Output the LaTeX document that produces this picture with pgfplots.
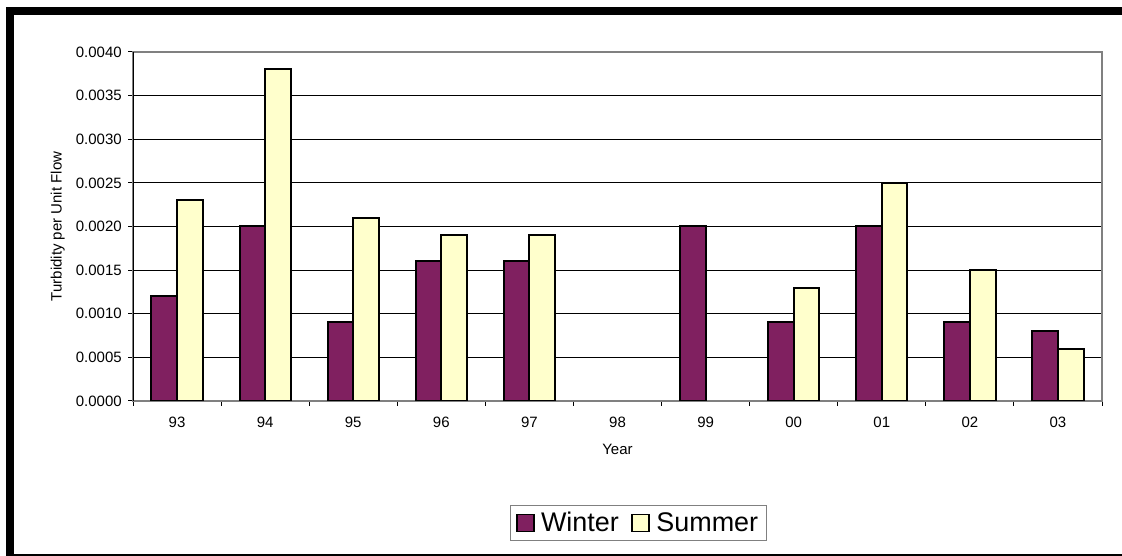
\documentclass[border=0pt]{standalone}
\usepackage{fontspec}
\setmainfont{Liberation Sans}
\usepackage{pgfplots}
\pgfplotsset{compat=1.18}
\definecolor{winter}{RGB}{128,32,96}
\definecolor{summer}{RGB}{255,255,204}
\definecolor{border}{RGB}{128,128,128}
\begin{document}
\begin{tikzpicture}
\useasboundingbox (0,0) rectangle (841.5pt,417pt);
\fill[white] (0,0) rectangle (841.5pt,417pt);
\draw[line width=6pt] (7.5pt,0) -- (7.5pt,408.75pt) -- (841.5pt,408.75pt);
\draw[line width=1pt] (4.5pt,0.75pt) -- (841.5pt,0.75pt);
\begin{axis}[
  at={(99.75pt,116.25pt)}, anchor=south west,
  width=726.75pt, height=261.75pt, scale only axis,
  xmin=-0.5, xmax=10.5, ymin=0, ymax=0.004,
  ybar=0pt, bar width=0.291,
  xtick={-0.5,0.5,1.5,2.5,3.5,4.5,5.5,6.5,7.5,8.5,9.5,10.5}, xticklabels={},
  extra x ticks={0,1,2,3,4,5,6,7,8,9,10},
  extra x tick labels={93,94,95,96,97,98,99,00,01,02,03},
  extra x tick style={major tick length=0pt},
  ytick={0,0.0005,0.001,0.0015,0.002,0.0025,0.003,0.0035,0.004},
  scaled y ticks=false,
  tick align=outside, tick pos=left, major tick length=3.75pt,
  tick style={black, line width=0.75pt},
  ymajorgrids, grid style={black, line width=0.75pt},
  axis line style={border, line width=1.1pt},
  tick label style={font=\fontsize{11.25}{13}\selectfont},
  label style={font=\fontsize{11.25}{13}\selectfont},
  yticklabel style={anchor=east, inner sep=0pt, xshift=-4.5pt,
    /pgf/number format/fixed, /pgf/number format/fixed zerofill,
    /pgf/number format/precision=4, /pgf/number format/assume math mode=true},
  xticklabel style={anchor=north, inner sep=0pt, yshift=-12pt},
  xlabel={Year},
  xlabel style={at={(axis description cs:0.5,-0.1240)}, anchor=north, inner sep=0pt},
  ylabel={Turbidity per Unit Flow},
  ylabel style={at={(axis description cs:-0.0702,0.5)}, anchor=south, inner sep=0pt},
  legend style={at={(0.5216,-0.3496)}, anchor=center, draw=border, line width=0.75pt,
    legend columns=2, font=\fontsize{20.2}{23}\selectfont,
    /tikz/every odd column/.append style={column sep=2.8pt},
    /tikz/every even column/.append style={column sep=7.4pt},
    inner xsep=4.5pt, inner ysep=3pt},
]
\addplot[fill=winter, draw=black, line width=1.5pt,
  legend image code/.code={\draw[fill=winter, draw=black, line width=1.2pt] (0pt,-6.4pt) rectangle (12.75pt,6.4pt);}]
  coordinates {(0,0.0012) (1,0.0020) (2,0.0009) (3,0.0016) (4,0.0016) (6,0.0020) (7,0.0009) (8,0.0020) (9,0.0009) (10,0.0008)};
\addlegendentry{Winter}
\addplot[fill=summer, draw=black, line width=1.5pt,
  legend image code/.code={\draw[fill=summer, draw=black, line width=1.2pt] (0pt,-6.4pt) rectangle (12.75pt,6.4pt);}]
  coordinates {(0,0.0023) (1,0.0038) (2,0.0021) (3,0.0019) (4,0.0019) (7,0.0013) (8,0.0025) (9,0.0015) (10,0.0006)};
\addlegendentry{Summer}
\draw[black, line width=0.75pt] (rel axis cs:0,0) -- (rel axis cs:0,1);
\end{axis}
\end{tikzpicture}
\end{document}
